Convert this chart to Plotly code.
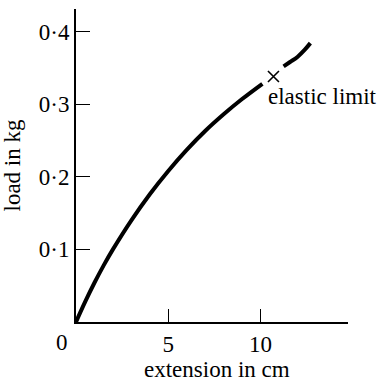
import plotly.graph_objects as go

# elastic region (before the elastic limit)
ext_elastic = [0, 0.5, 1, 1.5, 2, 3, 4, 5, 6, 7, 8, 9, 10.1]
load_elastic = [0, 0.028, 0.054, 0.078, 0.1, 0.14, 0.176, 0.208, 0.237, 0.263, 0.286, 0.307, 0.328]
# beyond the elastic limit
ext_plastic = [11.25, 11.6, 12.0, 12.4, 12.7]
load_plastic = [0.352, 0.358, 0.365, 0.375, 0.384]
# elastic limit point
limit_ext = [10.7]
limit_load = [0.338]
limit_label = "elastic limit"

x_title = "extension in cm"
y_title = "load in kg"
x_tickvals = [5, 10]
x_ticktext = ["5", "10"]
y_tickvals = [0.1, 0.2, 0.3, 0.4]
y_ticktext = ["0·1", "0·2", "0·3", "0·4"]

FONT = "Liberation Serif"
FS = 23

fig = go.Figure()
fig.add_trace(go.Scatter(x=ext_elastic, y=load_elastic, mode="lines",
                         line=dict(color="black", width=4, shape="spline", smoothing=1),
                         showlegend=False, hoverinfo="skip"))
fig.add_trace(go.Scatter(x=ext_plastic, y=load_plastic, mode="lines",
                         line=dict(color="black", width=4, shape="spline"),
                         showlegend=False, hoverinfo="skip"))
fig.add_trace(go.Scatter(x=limit_ext, y=limit_load, mode="markers",
                         marker=dict(symbol="x-thin", size=11,
                                     line=dict(color="black", width=1.6)),
                         showlegend=False, hoverinfo="skip"))

fig.add_annotation(x=limit_ext[0], y=limit_load[0], text=limit_label,
                   showarrow=False, xanchor="left", yanchor="top",
                   xshift=-7, yshift=-5,
                   font=dict(family=FONT, size=FS, color="black"))
fig.add_annotation(x=0, y=0, text="0", showarrow=False,
                   xanchor="center", yanchor="top", xshift=-14, yshift=-6,
                   font=dict(family=FONT, size=FS, color="black"))
fig.add_annotation(x=0.52, y=0, xref="paper", yref="paper", text=x_title,
                   showarrow=False, xanchor="center", yanchor="top", yshift=-33,
                   font=dict(family=FONT, size=FS, color="black"))

fig.update_layout(
    width=380, height=382,
    margin=dict(l=76, r=32, t=9, b=60),
    paper_bgcolor="white", plot_bgcolor="white",
    font=dict(family=FONT, size=FS, color="black"),
    xaxis=dict(range=[0, 14.74], showgrid=False, zeroline=False,
               showline=True, linecolor="black", linewidth=2,
               ticks="inside", ticklen=13, tickwidth=1.3, tickcolor="black",
               tickvals=x_tickvals, ticktext=x_ticktext, automargin=False),
    yaxis=dict(range=[0, 0.431], showgrid=False, zeroline=False,
               showline=True, linecolor="black", linewidth=2,
               ticks="inside", ticklen=14, tickwidth=1.3, tickcolor="black",
               tickvals=y_tickvals, ticktext=y_ticktext, automargin=False,
               title=dict(text=y_title, font=dict(family=FONT, size=FS))),
)

fig.write_html("out.html")
